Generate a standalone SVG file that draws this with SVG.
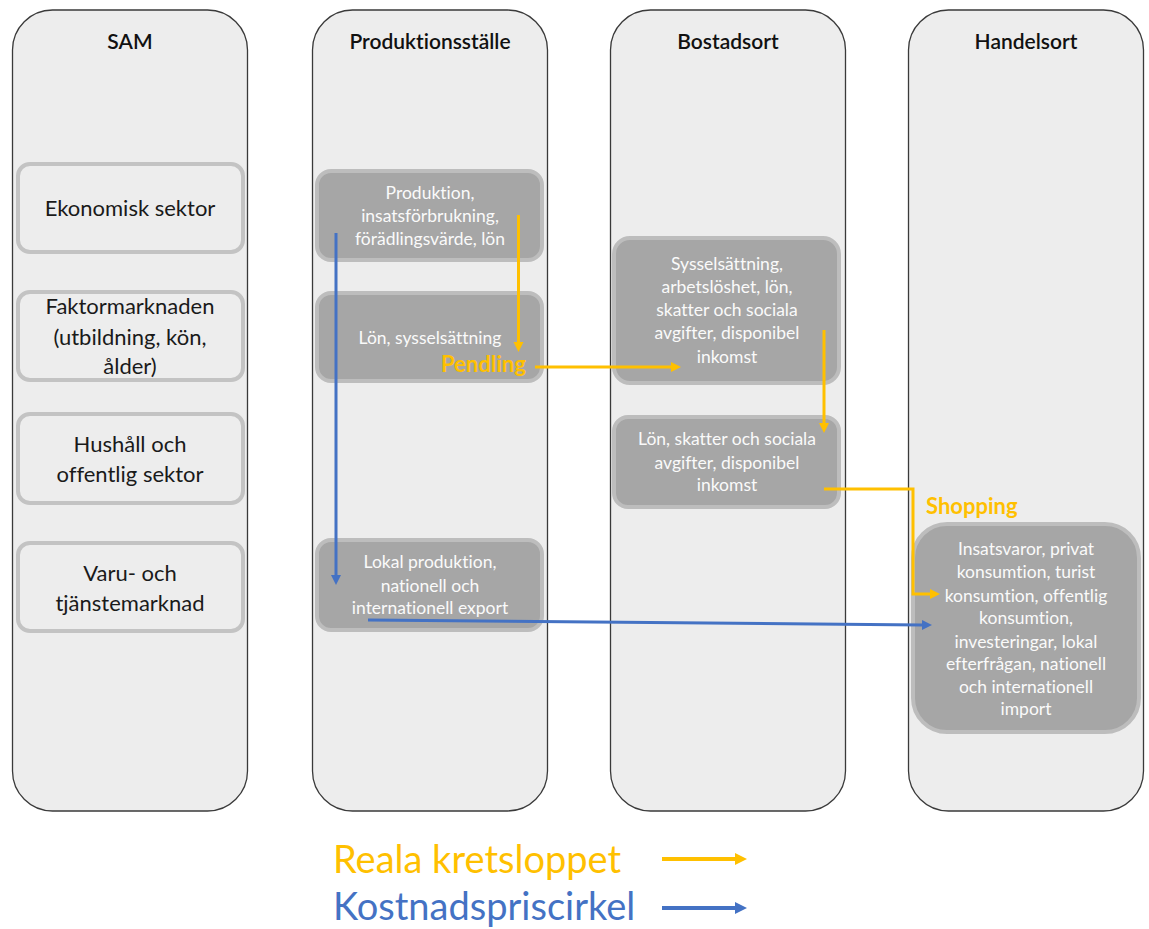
<svg xmlns="http://www.w3.org/2000/svg" width="1149" height="929" viewBox="0 0 1149 929">
<style>
text{font-variant-ligatures:none}
.lane{fill:#ededed;stroke:#3a3a3a;stroke-width:1.3}
.title{font-family:Lato,"Liberation Sans",sans-serif;font-size:21px;font-weight:600;fill:#111;text-anchor:middle}
.sam{fill:#ededed;stroke:#c3c3c3;stroke-width:4}
.samt{font-family:Lato,"Liberation Sans",sans-serif;font-size:22px;fill:#1a1a1a;text-anchor:middle}
.dark{fill:#a6a6a6;stroke:#bdbdbd;stroke-width:4}
.dt{font-family:Lato,"Liberation Sans",sans-serif;font-size:17.5px;fill:#fafafa;text-anchor:middle}
.or{fill:none;stroke:#ffc000;stroke-width:3}
.bl{fill:none;stroke:#4472c4;stroke-width:3}
.lbl{font-family:Lato,"Liberation Sans",sans-serif;font-size:22px;font-weight:700;fill:#ffc000}
.leg{font-family:Lato,"Liberation Sans",sans-serif;font-size:38px}
</style>
<defs>
<marker id="ao" viewBox="0 0 10 10" refX="0" refY="5" markerWidth="10" markerHeight="11" markerUnits="userSpaceOnUse" orient="auto"><path d="M0,0 L10,5 L0,10 z" fill="#ffc000"/></marker>
<marker id="ab" viewBox="0 0 10 10" refX="0" refY="5" markerWidth="10" markerHeight="11" markerUnits="userSpaceOnUse" orient="auto"><path d="M0,0 L10,5 L0,10 z" fill="#4472c4"/></marker>
<marker id="aoL" viewBox="0 0 10 10" refX="0" refY="5" markerWidth="12" markerHeight="13" markerUnits="userSpaceOnUse" orient="auto"><path d="M0,0 L10,5 L0,10 z" fill="#ffc000"/></marker>
<marker id="abL" viewBox="0 0 10 10" refX="0" refY="5" markerWidth="12" markerHeight="13" markerUnits="userSpaceOnUse" orient="auto"><path d="M0,0 L10,5 L0,10 z" fill="#4472c4"/></marker>
</defs>

<g id="lane-sam">
<rect class="lane" x="12.5" y="10" width="235" height="801" rx="40"/>
<text class="title" x="130" y="49">SAM</text>
</g>
<g id="lane-prod">
<rect class="lane" x="312.5" y="10" width="235" height="801" rx="40"/>
<text class="title" x="430" y="49">Produktionsställe</text>
</g>
<g id="lane-bost">
<rect class="lane" x="610.5" y="10" width="235" height="801" rx="40"/>
<text class="title" x="728" y="49">Bostadsort</text>
</g>
<g id="lane-handel">
<rect class="lane" x="908.5" y="10" width="235" height="801" rx="40"/>
<text class="title" x="1026" y="49">Handelsort</text>
</g>

<g id="sam-ekonomisk">
<rect class="sam" x="18" y="164" width="225" height="88" rx="12"/>
<text class="samt" x="130" y="216">Ekonomisk sektor</text>
</g>
<g id="sam-faktor">
<rect class="sam" x="18" y="292" width="225" height="88" rx="12"/>
<text class="samt" x="130" y="314">Faktormarknaden</text>
<text class="samt" x="130" y="345">(utbildning, kön,</text>
<text class="samt" x="130" y="374">ålder)</text>
</g>
<g id="sam-hushall">
<rect class="sam" x="18" y="414" width="225" height="89" rx="12"/>
<text class="samt" x="130" y="452">Hushåll och</text>
<text class="samt" x="130" y="482">offentlig sektor</text>
</g>
<g id="sam-varu">
<rect class="sam" x="18" y="543" width="225" height="88" rx="12"/>
<text class="samt" x="130" y="581">Varu- och</text>
<text class="samt" x="130" y="611">tjänstemarknad</text>
</g>

<g id="prod-produktion">
<rect class="dark" x="317" y="171" width="225" height="89" rx="14"/>
<text class="dt" x="430" y="199">Produktion,</text>
<text class="dt" x="430" y="222">insatsförbrukning,</text>
<text class="dt" x="430" y="245">förädlingsvärde, lön</text>
</g>
<g id="prod-lon">
<rect class="dark" x="317" y="293" width="225" height="88" rx="14"/>
<text class="dt" x="430" y="344">Lön, sysselsättning</text>
</g>
<g id="prod-lokal">
<rect class="dark" x="317" y="540" width="225" height="90" rx="14"/>
<text class="dt" x="430" y="568">Lokal produktion,</text>
<text class="dt" x="430" y="592">nationell och</text>
<text class="dt" x="430" y="614">internationell export</text>
</g>

<g id="bost-syssel">
<rect class="dark" x="614" y="238" width="225" height="145" rx="16"/>
<text class="dt" x="727" y="270">Sysselsättning,</text>
<text class="dt" x="727" y="293">arbetslöshet, lön,</text>
<text class="dt" x="727" y="316">skatter och sociala</text>
<text class="dt" x="727" y="339">avgifter, disponibel</text>
<text class="dt" x="727" y="363">inkomst</text>
</g>
<g id="bost-lon">
<rect class="dark" x="614" y="417" width="225" height="90" rx="14"/>
<text class="dt" x="727" y="445">Lön, skatter och sociala</text>
<text class="dt" x="727" y="469">avgifter, disponibel</text>
<text class="dt" x="727" y="491">inkomst</text>
</g>

<g id="handel-import">
<rect class="dark" x="913" y="524" width="226" height="208" rx="34"/>
<text class="dt" x="1026" y="555">Insatsvaror, privat</text>
<text class="dt" x="1026" y="578">konsumtion, turist</text>
<text class="dt" x="1026" y="602">konsumtion, offentlig</text>
<text class="dt" x="1026" y="624">konsumtion,</text>
<text class="dt" x="1026" y="648">investeringar, lokal</text>
<text class="dt" x="1026" y="670">efterfrågan, nationell</text>
<text class="dt" x="1026" y="693">och internationell</text>
<text class="dt" x="1026" y="715">import</text>
</g>

<g id="connectors">
<path class="or" d="M518.5,215 V342" marker-end="url(#ao)"/>
<path class="or" d="M535,367 H671" marker-end="url(#ao)"/>
<path class="or" d="M824,330 V423" marker-end="url(#ao)"/>
<path class="or" d="M824,489 H913 V594 H930" marker-end="url(#ao)"/>
<path class="bl" d="M336,233 V575" marker-end="url(#ab)"/>
<path class="bl" d="M368,620 L922,625" marker-end="url(#ab)"/>
<text class="lbl" x="441" y="372">Pendling</text>
<text class="lbl" x="926" y="514">Shopping</text>
</g>

<g id="legend">
<text class="leg" x="333" y="873" fill="#ffc000">Reala kretsloppet</text>
<text class="leg" x="333" y="920" fill="#4472c4">Kostnadspriscirkel</text>
<path d="M662,859 H735" stroke="#ffc000" stroke-width="4" fill="none" marker-end="url(#aoL)"/>
<path d="M662,908 H735" stroke="#4472c4" stroke-width="4" fill="none" marker-end="url(#abL)"/>
</g>
</svg>
